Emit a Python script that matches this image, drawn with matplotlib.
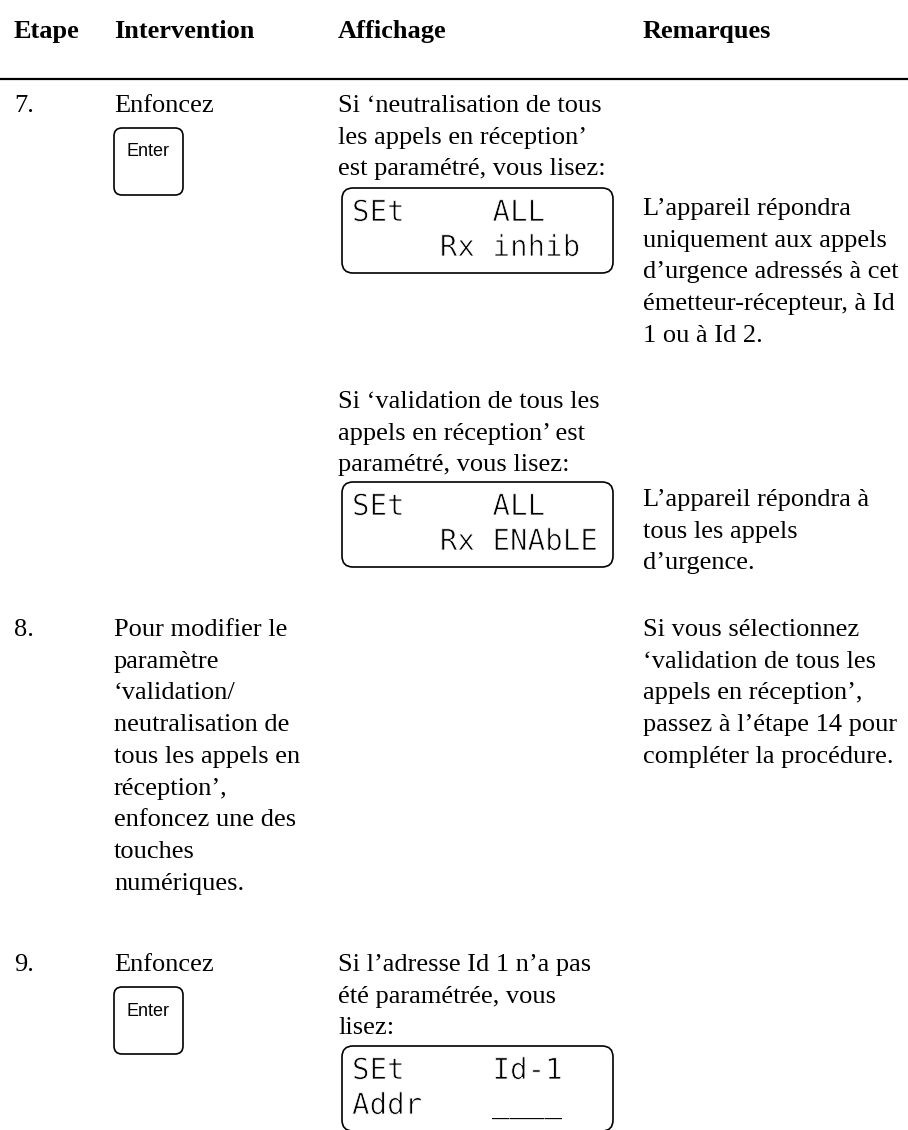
import re
import matplotlib.pyplot as plt
import matplotlib.patheffects as pe
from matplotlib.patches import FancyBboxPatch

# ---- content -------------------------------------------------------------
headers = ['Etape', 'Intervention', 'Affichage', 'Remarques']

step_numbers = ['7.', '8.', '9.']

interventions = [
    ['Enfoncez'],
    ['Pour modifier le', 'paramètre', '\u2018validation/', 'neutralisation de',
     'tous les appels en', 'réception\u2019,', 'enfoncez une des', 'touches',
     'numériques.'],
    ['Enfoncez'],
]

display_notes = [
    ['Si \u2018neutralisation de tous', 'les appels en réception\u2019',
     'est paramétré, vous lisez:'],
    ['Si \u2018validation de tous les', 'appels en réception\u2019 est',
     'paramétré, vous lisez:'],
    ['Si l\u2019adresse Id 1 n\u2019a pas', 'été paramétrée, vous', 'lisez:'],
]

lcd_screens = [
    ['SEt     ALL', '     Rx inhib'],
    ['SEt     ALL', '     Rx ENAbLE'],
    ['SEt     Id-1', 'Addr    ____'],
]

remarks = [
    ['L\u2019appareil répondra', 'uniquement aux appels',
     'd\u2019urgence adressés à cet', 'émetteur-récepteur, à Id',
     '1 ou à Id 2.'],
    ['L\u2019appareil répondra à', 'tous les appels', 'd\u2019urgence.'],
    ['Si vous sélectionnez', '\u2018validation de tous les',
     'appels en réception\u2019,', 'passez à l\u2019étape 14 pour',
     'compléter la procédure.'],
]

key_label = 'Enter'

# ---- layout (page pixels, y downwards) -------------------------------------
W, H = 908, 1130
col_x = [14, 114, 338, 643]
pitch = 31.7
header_y = 30
rule_y = 79
row_y = [104, 628, 963]
note_y = [104, 400, 963]
lcd_top = [188, 482, 1046]
remark_y = [207, 498, 628]
key_rows = [0, 2]

serif = 'Liberation Serif'
fs = 19
lcd_fs = 21
cell = 0.602 * lcd_fs * 100 / 72  # DejaVu Sans Mono advance in px

fig = plt.figure(figsize=(W / 100, H / 100), dpi=100)
ax = fig.add_axes([0, 0, 1, 1])
ax.set_xlim(0, W)
ax.set_ylim(H, 0)
ax.axis('off')


def lines(x, y0, texts, **kw):
    for i, t in enumerate(texts):
        ax.text(x, y0 + i * pitch + 8, t, family=serif, fontsize=fs,
                va='baseline', ha='left', **kw)


# header
for x, h in zip(col_x, headers):
    ax.text(x, header_y + 8, h, family=serif, fontsize=fs,
            fontweight='bold', va='baseline')
ax.plot([0, W], [rule_y, rule_y], color='black', lw=1.6)

# steps
for i, n in enumerate(step_numbers):
    lines(col_x[0], row_y[i], [n])
    lines(col_x[1], row_y[i], interventions[i])
    lines(col_x[2], note_y[i], display_notes[i])
    lines(col_x[3], remark_y[i], remarks[i])

# Enter keys
for r in key_rows:
    top = row_y[r] + 24
    ax.add_patch(FancyBboxPatch((114, top), 69, 67,
                                boxstyle='round,pad=0,rounding_size=8',
                                fc='white', ec='black', lw=1.2))
    ax.text(148.5, top + 24, key_label, family='Liberation Sans',
            fontsize=13, ha='center', va='center')

# LCD screens: words placed on the character grid; a light white edge
# stroke thins the glyphs (not on underscores, which would vanish)
thin = [pe.Stroke(linewidth=0.6, foreground='white')]
for top, scr in zip(lcd_top, lcd_screens):
    ax.add_patch(FancyBboxPatch((342, top), 271, 85,
                                boxstyle='round,pad=0,rounding_size=11',
                                fc='white', ec='black', lw=1.2))
    for j, t in enumerate(scr):
        for m in re.finditer(r'\S+', t):
            word = m.group()
            ax.text(352 + m.start() * cell, top + 25 + j * 35, word,
                    family='DejaVu Sans Mono', fontsize=lcd_fs,
                    va='center', ha='left',
                    path_effects=None if '_' in word else thin)

fig.savefig('out.png', dpi=100)
